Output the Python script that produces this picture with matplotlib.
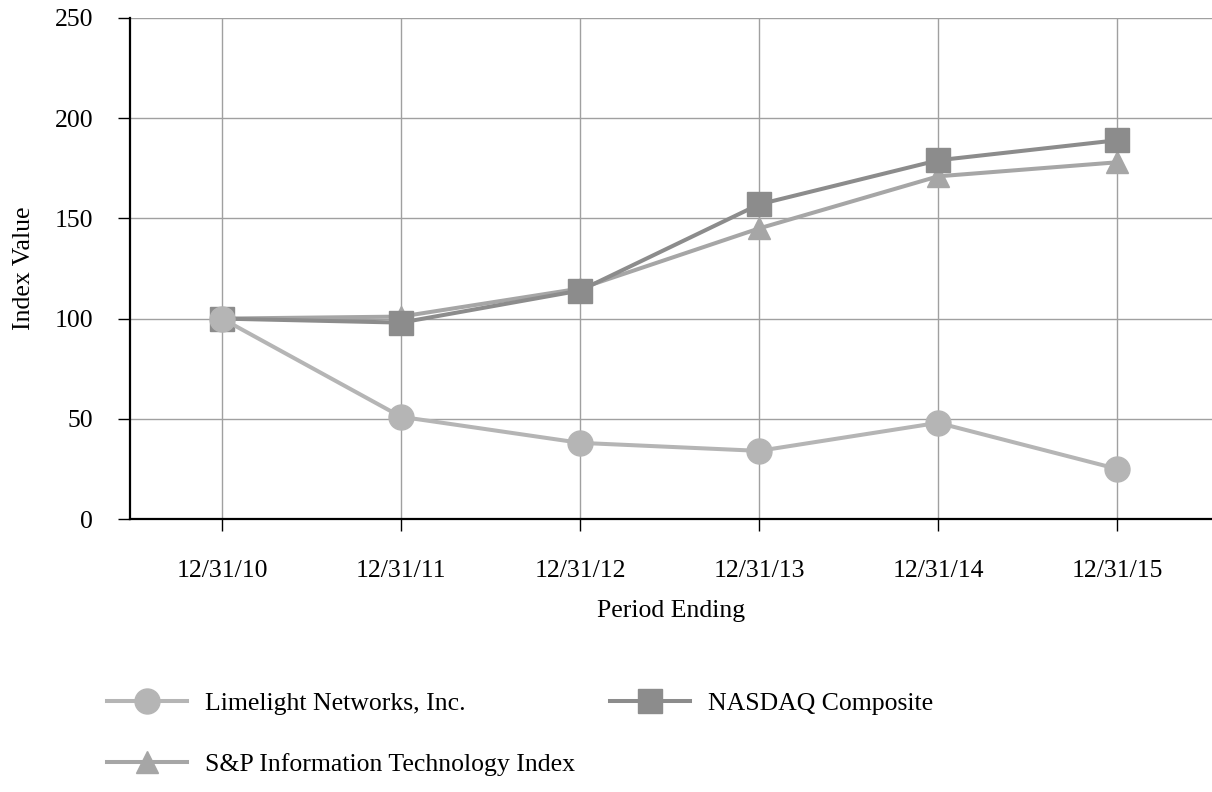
import matplotlib
matplotlib.use("Agg")
import matplotlib.pyplot as plt

# data
periods = ["12/31/10", "12/31/11", "12/31/12", "12/31/13", "12/31/14", "12/31/15"]
limelight = [100, 51, 38, 34, 48, 25]
nasdaq = [100, 98, 114, 157, 179, 189]
sp_it = [100, 101, 115, 145, 171, 178]

plt.rcParams['font.family'] = ['Liberation Serif', 'DejaVu Serif']

fig = plt.figure(figsize=(12.12, 7.92), dpi=100)
ax = fig.add_axes([130 / 1212, 1 - 519 / 792, 1 - 130 / 1212, (519 - 18) / 792])

x = list(range(len(periods)))
l_sp, = ax.plot(x, sp_it, color="#a6a6a6", lw=2.9, marker="^", ms=16,
                label="S&P Information Technology Index", zorder=3)
l_nq, = ax.plot(x, nasdaq, color="#8c8c8c", lw=2.9, marker="s", ms=17,
                label="NASDAQ Composite", zorder=4)
l_ll, = ax.plot(x, limelight, color="#b5b5b5", lw=2.9, marker="o", ms=18,
                label="Limelight Networks, Inc.", zorder=5)

ax.set_xlim(-0.514, 5.53)
ax.set_ylim(0, 250)
ax.set_xticks(x)
ax.set_xticklabels(periods)
ax.set_yticks(range(0, 251, 50))
ax.grid(True, color="#a0a0a0", lw=1)
ax.set_axisbelow(True)

for s in ["top", "right"]:
    ax.spines[s].set_visible(False)
ax.spines["left"].set_linewidth(1.6)
ax.spines["bottom"].set_linewidth(1.6)
ax.tick_params(axis="both", labelsize=18.5, length=8.6, width=1, direction="out")
ax.tick_params(axis="y", pad=18)
ax.tick_params(axis="x", pad=21)

ax.set_ylabel("Index Value", fontsize=18.5, labelpad=14)
ax.set_xlabel("Period Ending", fontsize=18.5, labelpad=13)

# column-wise fill -> Limelight / NASDAQ on row 1, S&P on row 2
leg = fig.legend(handles=[l_ll, l_sp, l_nq], ncol=2, loc="upper left",
                 bbox_to_anchor=(97 / 1212, 1 - 682 / 792), frameon=False,
                 fontsize=18.5, handlelength=3.1, handletextpad=0.7,
                 columnspacing=1.36, labelspacing=1.46, borderaxespad=0)

fig.savefig("out.png", dpi=100)
